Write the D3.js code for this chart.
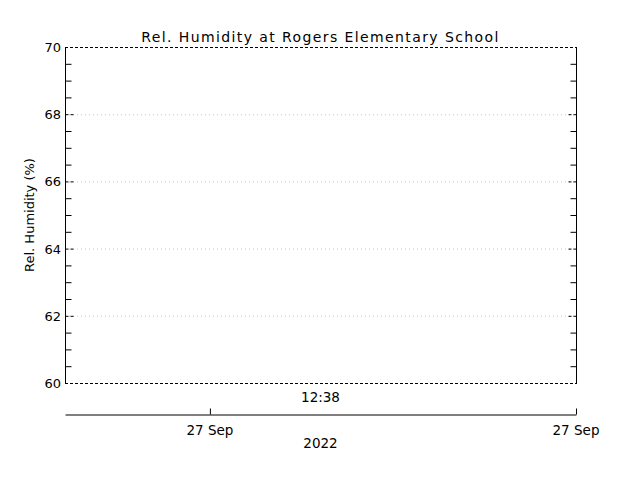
<!DOCTYPE html>
<html>
<head>
<meta charset="utf-8">
<script src="https://cdn.jsdelivr.net/npm/d3@7"></script>
<style>
  body { margin: 0; background: #fff; }
  text { font-family: "DejaVu Sans", sans-serif; fill: #000; }
</style>
</head>
<body>
<script>
// chart values
var titleText = "Rel. Humidity at Rogers Elementary School";
var yLabel = "Rel. Humidity (%)";
var yDomain = [60, 70];
var yMajor = [60, 62, 64, 66, 68, 70];
var yMinor = d3.range(60, 70.01, 0.5).filter(function (v) { return v % 2 !== 0; });
var timeDomain = [new Date(2022, 8, 26, 19, 0), new Date(2022, 8, 27, 12, 38)];
var dayTicks = [new Date(2022, 8, 27, 0, 0), new Date(2022, 8, 27, 12, 38)];
var dayLabels = ["27 Sep", "27 Sep"];
var timeLabel = "12:38";
var yearLabel = "2022";

var W = 640, H = 480;
var box = { left: 65, right: 576, top: 47, bottom: 383 };

var svg = d3.select("body").append("svg")
    .attr("width", W)
    .attr("height", H);

var x = d3.scaleTime().domain(timeDomain).range([box.left, box.right]);
var y = d3.scaleLinear().domain(yDomain).range([box.bottom, box.top]);

// dotted grid lines
svg.append("g")
  .selectAll("line")
  .data(yMajor.slice(1, -1))
  .enter().append("line")
    .attr("x1", box.left).attr("x2", box.right)
    .attr("y1", function (d) { return y(d) + 0.5; })
    .attr("y2", function (d) { return y(d) + 0.5; })
    .style("stroke", "#c8c8c8")
    .style("stroke-dasharray", "1,3");

// frame: dashed top/bottom, solid sides
svg.append("line")
    .attr("x1", box.left).attr("x2", box.right)
    .attr("y1", box.top + 0.5).attr("y2", box.top + 0.5)
    .style("stroke", "#000").style("stroke-dasharray", "3,2");
svg.append("line")
    .attr("x1", box.left).attr("x2", box.right)
    .attr("y1", box.bottom + 0.5).attr("y2", box.bottom + 0.5)
    .style("stroke", "#000").style("stroke-dasharray", "3,2");
svg.append("line")
    .attr("x1", box.left + 0.5).attr("x2", box.left + 0.5)
    .attr("y1", box.top).attr("y2", box.bottom + 1)
    .style("stroke", "#000");
svg.append("line")
    .attr("x1", box.right + 0.5).attr("x2", box.right + 0.5)
    .attr("y1", box.top).attr("y2", box.bottom + 1)
    .style("stroke", "#000");

// y ticks: major dashed, minor solid, on both sides, pointing inward
[box.left, box.right].forEach(function (edge) {
  var dir = edge === box.left ? 1 : -1;
  svg.append("g").selectAll("line")
    .data(yMajor.slice(1, -1))
    .enter().append("line")
      .attr("x1", edge + 0.5).attr("x2", edge + 0.5 + dir * 9)
      .attr("y1", function (d) { return y(d) + 0.5; })
      .attr("y2", function (d) { return y(d) + 0.5; })
      .style("stroke", "#000")
      .style("stroke-dasharray", "3,2");
  svg.append("g").selectAll("line")
    .data(yMinor)
    .enter().append("line")
      .attr("x1", edge + 0.5).attr("x2", edge + 0.5 + dir * 6)
      .attr("y1", function (d) { return y(d) + 0.5; })
      .attr("y2", function (d) { return y(d) + 0.5; })
      .style("stroke", "#000");
});

// y tick labels
svg.append("g").selectAll("text")
  .data(yMajor)
  .enter().append("text")
    .attr("x", box.left - 4)
    .attr("y", function (d) { return y(d) + 5; })
    .attr("text-anchor", "end")
    .style("font-size", "13px")
    .text(function (d) { return d; });

// title and y axis label
svg.append("text")
    .attr("x", (box.left + box.right) / 2)
    .attr("y", 42)
    .attr("text-anchor", "middle")
    .style("font-size", "14px")
    .style("letter-spacing", "1.4px")
    .text(titleText);

svg.append("text")
    .attr("transform", "translate(34," + ((box.top + box.bottom) / 2) + ") rotate(-90)")
    .attr("text-anchor", "middle")
    .style("font-size", "13px")
    .text(yLabel);

// time axis below plot
var axisY = 414;
var xAxis = d3.axisTop(x)
    .tickValues(dayTicks)
    .tickSize(6)
    .tickSizeOuter(0)
    .tickFormat("");
var gx = svg.append("g")
    .attr("transform", "translate(0," + (axisY + 0.5) + ")")
    .call(xAxis);
gx.select(".domain").style("stroke", "#000");
gx.selectAll(".tick line").style("stroke", "#000");

svg.append("g").selectAll("text")
  .data(dayTicks)
  .enter().append("text")
    .attr("x", function (d) { return x(d); })
    .attr("y", axisY + 21)
    .attr("text-anchor", "middle")
    .style("font-size", "13.5px")
    .text(function (d, i) { return dayLabels[i]; });

svg.append("text")
    .attr("x", (box.left + box.right) / 2)
    .attr("y", 402)
    .attr("text-anchor", "middle")
    .style("font-size", "13.5px")
    .text(timeLabel);

svg.append("text")
    .attr("x", (box.left + box.right) / 2)
    .attr("y", 448)
    .attr("text-anchor", "middle")
    .style("font-size", "13.5px")
    .text(yearLabel);
</script>
</body>
</html>
